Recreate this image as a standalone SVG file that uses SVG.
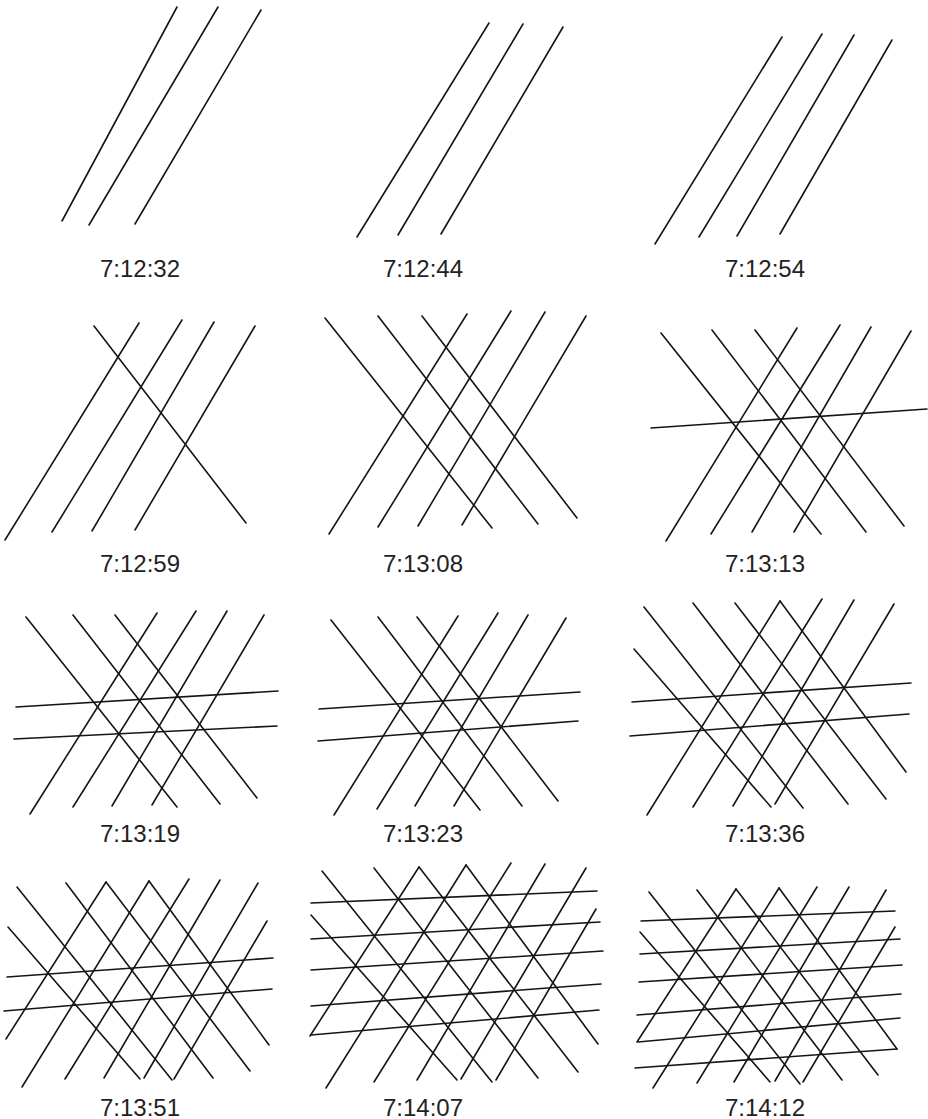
<svg xmlns="http://www.w3.org/2000/svg" width="928" height="1119" viewBox="0 0 928 1119">
<style>
line{stroke:#151515;stroke-width:1.6;stroke-linecap:round;fill:none}
text{font-family:"Liberation Sans",Arial,sans-serif;font-size:24px;fill:#222;text-anchor:middle}
</style>
<rect width="928" height="1119" fill="#fff"/>
<g id="p1">
<line x1="177" y1="7" x2="62" y2="221"/>
<line x1="218" y1="7" x2="89" y2="225"/>
<line x1="261" y1="10" x2="135" y2="224"/>
<text x="140" y="277">7:12:32</text>
</g>
<g id="p2">
<line x1="489" y1="23" x2="357" y2="237"/>
<line x1="523" y1="24" x2="398" y2="235"/>
<line x1="563" y1="27" x2="441" y2="234"/>
<text x="423" y="277">7:12:44</text>
</g>
<g id="p3">
<line x1="782" y1="37" x2="655" y2="244"/>
<line x1="822" y1="34" x2="699" y2="237"/>
<line x1="854" y1="35" x2="737" y2="236"/>
<line x1="892" y1="40" x2="780" y2="234"/>
<text x="765" y="277">7:12:54</text>
</g>
<g id="p4">
<line x1="139" y1="323" x2="5" y2="540"/>
<line x1="182" y1="320" x2="52" y2="532"/>
<line x1="214" y1="322" x2="92" y2="531"/>
<line x1="255" y1="326" x2="135" y2="530"/>
<line x1="94" y1="326" x2="246" y2="523"/>
<text x="140" y="572">7:12:59</text>
</g>
<g id="p5">
<line x1="467" y1="314" x2="329" y2="534"/>
<line x1="511" y1="311" x2="378" y2="527"/>
<line x1="545" y1="312" x2="418" y2="526"/>
<line x1="586" y1="316" x2="462" y2="525"/>
<line x1="325" y1="318" x2="492" y2="528"/>
<line x1="378" y1="316" x2="538" y2="524"/>
<line x1="422" y1="316" x2="577" y2="518"/>
<text x="423" y="572">7:13:08</text>
</g>
<g id="p6">
<line x1="797" y1="328" x2="666" y2="541"/>
<line x1="840" y1="325" x2="711" y2="534"/>
<line x1="871" y1="327" x2="752" y2="532"/>
<line x1="911" y1="331" x2="794" y2="532"/>
<line x1="661" y1="333" x2="821" y2="534"/>
<line x1="712" y1="330" x2="866" y2="532"/>
<line x1="755" y1="330" x2="904" y2="526"/>
<line x1="651" y1="428" x2="927" y2="409"/>
<text x="765" y="572">7:13:13</text>
</g>
<g id="p7">
<line x1="157" y1="613" x2="30" y2="814"/>
<line x1="196" y1="611" x2="73" y2="807"/>
<line x1="227" y1="611" x2="112" y2="806"/>
<line x1="264" y1="615" x2="152" y2="805"/>
<line x1="26" y1="617" x2="177" y2="807"/>
<line x1="73" y1="615" x2="220" y2="804"/>
<line x1="115" y1="615" x2="257" y2="798"/>
<line x1="16" y1="707" x2="278" y2="691"/>
<line x1="14" y1="739" x2="277" y2="726"/>
<text x="140" y="842">7:13:19</text>
</g>
<g id="p8">
<line x1="458" y1="616" x2="334" y2="815"/>
<line x1="498" y1="613" x2="377" y2="809"/>
<line x1="528" y1="615" x2="415" y2="806"/>
<line x1="566" y1="618" x2="454" y2="806"/>
<line x1="331" y1="620" x2="480" y2="810"/>
<line x1="378" y1="617" x2="522" y2="806"/>
<line x1="417" y1="617" x2="558" y2="801"/>
<line x1="319" y1="709" x2="580" y2="692"/>
<line x1="318" y1="741" x2="578" y2="721"/>
<text x="423" y="842">7:13:23</text>
</g>
<g id="p9">
<line x1="780" y1="601" x2="647" y2="815"/>
<line x1="822" y1="599" x2="693" y2="807"/>
<line x1="854" y1="600" x2="733" y2="806"/>
<line x1="894" y1="604" x2="775" y2="804"/>
<line x1="634" y1="649" x2="771" y2="807"/>
<line x1="644" y1="607" x2="803" y2="808"/>
<line x1="693" y1="603" x2="848" y2="804"/>
<line x1="735" y1="603" x2="886" y2="799"/>
<line x1="780" y1="601" x2="906" y2="772"/>
<line x1="632" y1="702" x2="911" y2="683"/>
<line x1="630" y1="736" x2="909" y2="714"/>
<text x="765" y="842">7:13:36</text>
</g>
<g id="p10">
<line x1="106" y1="882" x2="6" y2="1039"/>
<line x1="149" y1="881" x2="22" y2="1087"/>
<line x1="189" y1="879" x2="65" y2="1079"/>
<line x1="220" y1="880" x2="104" y2="1078"/>
<line x1="258" y1="883" x2="144" y2="1078"/>
<line x1="267" y1="921" x2="174" y2="1079"/>
<line x1="8" y1="927" x2="140" y2="1079"/>
<line x1="17" y1="887" x2="172" y2="1080"/>
<line x1="66" y1="883" x2="213" y2="1078"/>
<line x1="106" y1="882" x2="250" y2="1071"/>
<line x1="149" y1="881" x2="269" y2="1045"/>
<line x1="7" y1="977" x2="273" y2="958"/>
<line x1="4" y1="1011" x2="272" y2="989"/>
<text x="140" y="1116">7:13:51</text>
</g>
<g id="p11">
<line x1="419" y1="867" x2="310" y2="1036"/>
<line x1="466" y1="865" x2="326" y2="1088"/>
<line x1="511" y1="863" x2="374" y2="1082"/>
<line x1="545" y1="864" x2="417" y2="1080"/>
<line x1="586" y1="868" x2="461" y2="1079"/>
<line x1="596" y1="909" x2="496" y2="1080"/>
<line x1="311" y1="915" x2="457" y2="1080"/>
<line x1="322" y1="871" x2="492" y2="1082"/>
<line x1="374" y1="868" x2="538" y2="1078"/>
<line x1="419" y1="867" x2="578" y2="1072"/>
<line x1="466" y1="865" x2="598" y2="1044"/>
<line x1="311" y1="903" x2="597" y2="891"/>
<line x1="311" y1="939" x2="600" y2="922"/>
<line x1="311" y1="970" x2="603" y2="951"/>
<line x1="311" y1="1006" x2="601" y2="984"/>
<line x1="311" y1="1035" x2="599" y2="1010"/>
<text x="423" y="1116">7:14:07</text>
</g>
<g id="p12">
<line x1="736" y1="889" x2="637" y2="1042"/>
<line x1="779" y1="888" x2="653" y2="1088"/>
<line x1="817" y1="887" x2="697" y2="1083"/>
<line x1="849" y1="887" x2="734" y2="1082"/>
<line x1="886" y1="890" x2="775" y2="1081"/>
<line x1="895" y1="927" x2="803" y2="1082"/>
<line x1="640" y1="932" x2="770" y2="1082"/>
<line x1="649" y1="892" x2="800" y2="1084"/>
<line x1="697" y1="890" x2="842" y2="1080"/>
<line x1="736" y1="889" x2="878" y2="1075"/>
<line x1="779" y1="888" x2="897" y2="1049"/>
<line x1="641" y1="921" x2="895" y2="911"/>
<line x1="640" y1="954" x2="900" y2="939"/>
<line x1="639" y1="982" x2="902" y2="965"/>
<line x1="637" y1="1015" x2="901" y2="994"/>
<line x1="638" y1="1042" x2="900" y2="1018"/>
<line x1="635" y1="1068" x2="897" y2="1049"/>
<text x="765" y="1116">7:14:12</text>
</g>
</svg>
